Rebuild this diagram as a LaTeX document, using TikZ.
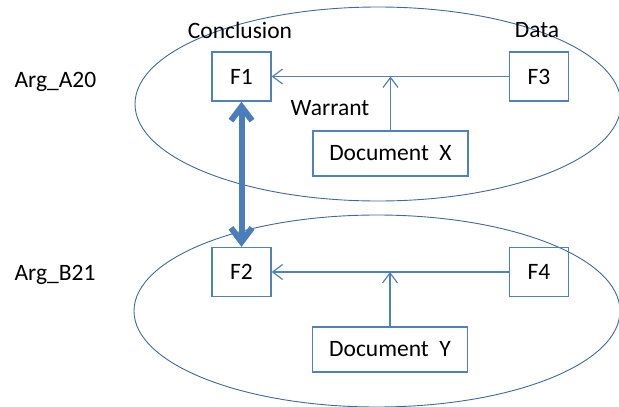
\documentclass[tikz,border=0pt]{standalone}
\usepackage{fontspec}
\setmainfont{Carlito}
\usetikzlibrary{arrows.meta}
\definecolor{boxblue}{HTML}{4F81BD}
\definecolor{ellblue}{HTML}{41689A}
\definecolor{thickblue}{HTML}{4A7EBB}
\begin{document}
\begin{tikzpicture}[x=1pt,y=-1pt,
  every node/.style={font=\fontsize{23.5}{27}\selectfont, text=black},
  fbox/.style={draw=boxblue, line width=1.3pt, minimum width=59pt, minimum height=49pt, inner sep=0pt},
  docbox/.style={draw=boxblue, line width=1.3pt, minimum width=155pt, minimum height=45pt, inner sep=0pt},
  thin arrow/.style={draw=boxblue, line width=1.2pt, -{Straight Barb[length=10pt,width=15pt]}},
  ell/.style={draw=ellblue, line width=0.9pt},
  big head/.style={Straight Barb[length=14pt,width=21pt]}]
\useasboundingbox (0,0) rectangle (619,407);
% ellipses
\draw[ell] (378,104) ellipse [x radius=243, y radius=97];
\draw[ell] (377,311) ellipse [x radius=243, y radius=96];
% labels
\node[anchor=west] (argA) at (11,82) {Arg\_A20};
\node[anchor=west] (argB) at (11,275) {Arg\_B21};
\node (concl) at (240,30) {Conclusion};
\node (data) at (537,30) {Data};
\node (warrant) at (330,108) {Warrant};
% top argument
\node[fbox] (F1) at (241.5,76.5) {F1};
\node[fbox] (F3) at (539,76.5) {F3};
\node[docbox] (DX) at (390.5,153.5) {Document\ \ X};
\coordinate (wA) at (DX.north |- F1.east);
\draw[thin arrow] (F3.west) -- (F1.east);
\draw[thin arrow] (DX.north) -- (wA);
% bottom argument
\node[fbox] (F2) at (241.5,272) {F2};
\node[fbox] (F4) at (539,272) {F4};
\node[docbox] (DY) at (390,349.5) {Document\ \ Y};
\coordinate (wB) at (DY.north |- F2.east);
\draw[thin arrow] (F4.west) -- (F2.east);
\draw[thin arrow] (DY.north) -- (wB);
% thick double arrow
\draw[draw=thickblue, line width=6pt, {Straight Barb[length=14pt,width=21pt]}-{Straight Barb[length=14pt,width=21pt]}] (F1.south) -- (F2.north);
\end{tikzpicture}
\end{document}
